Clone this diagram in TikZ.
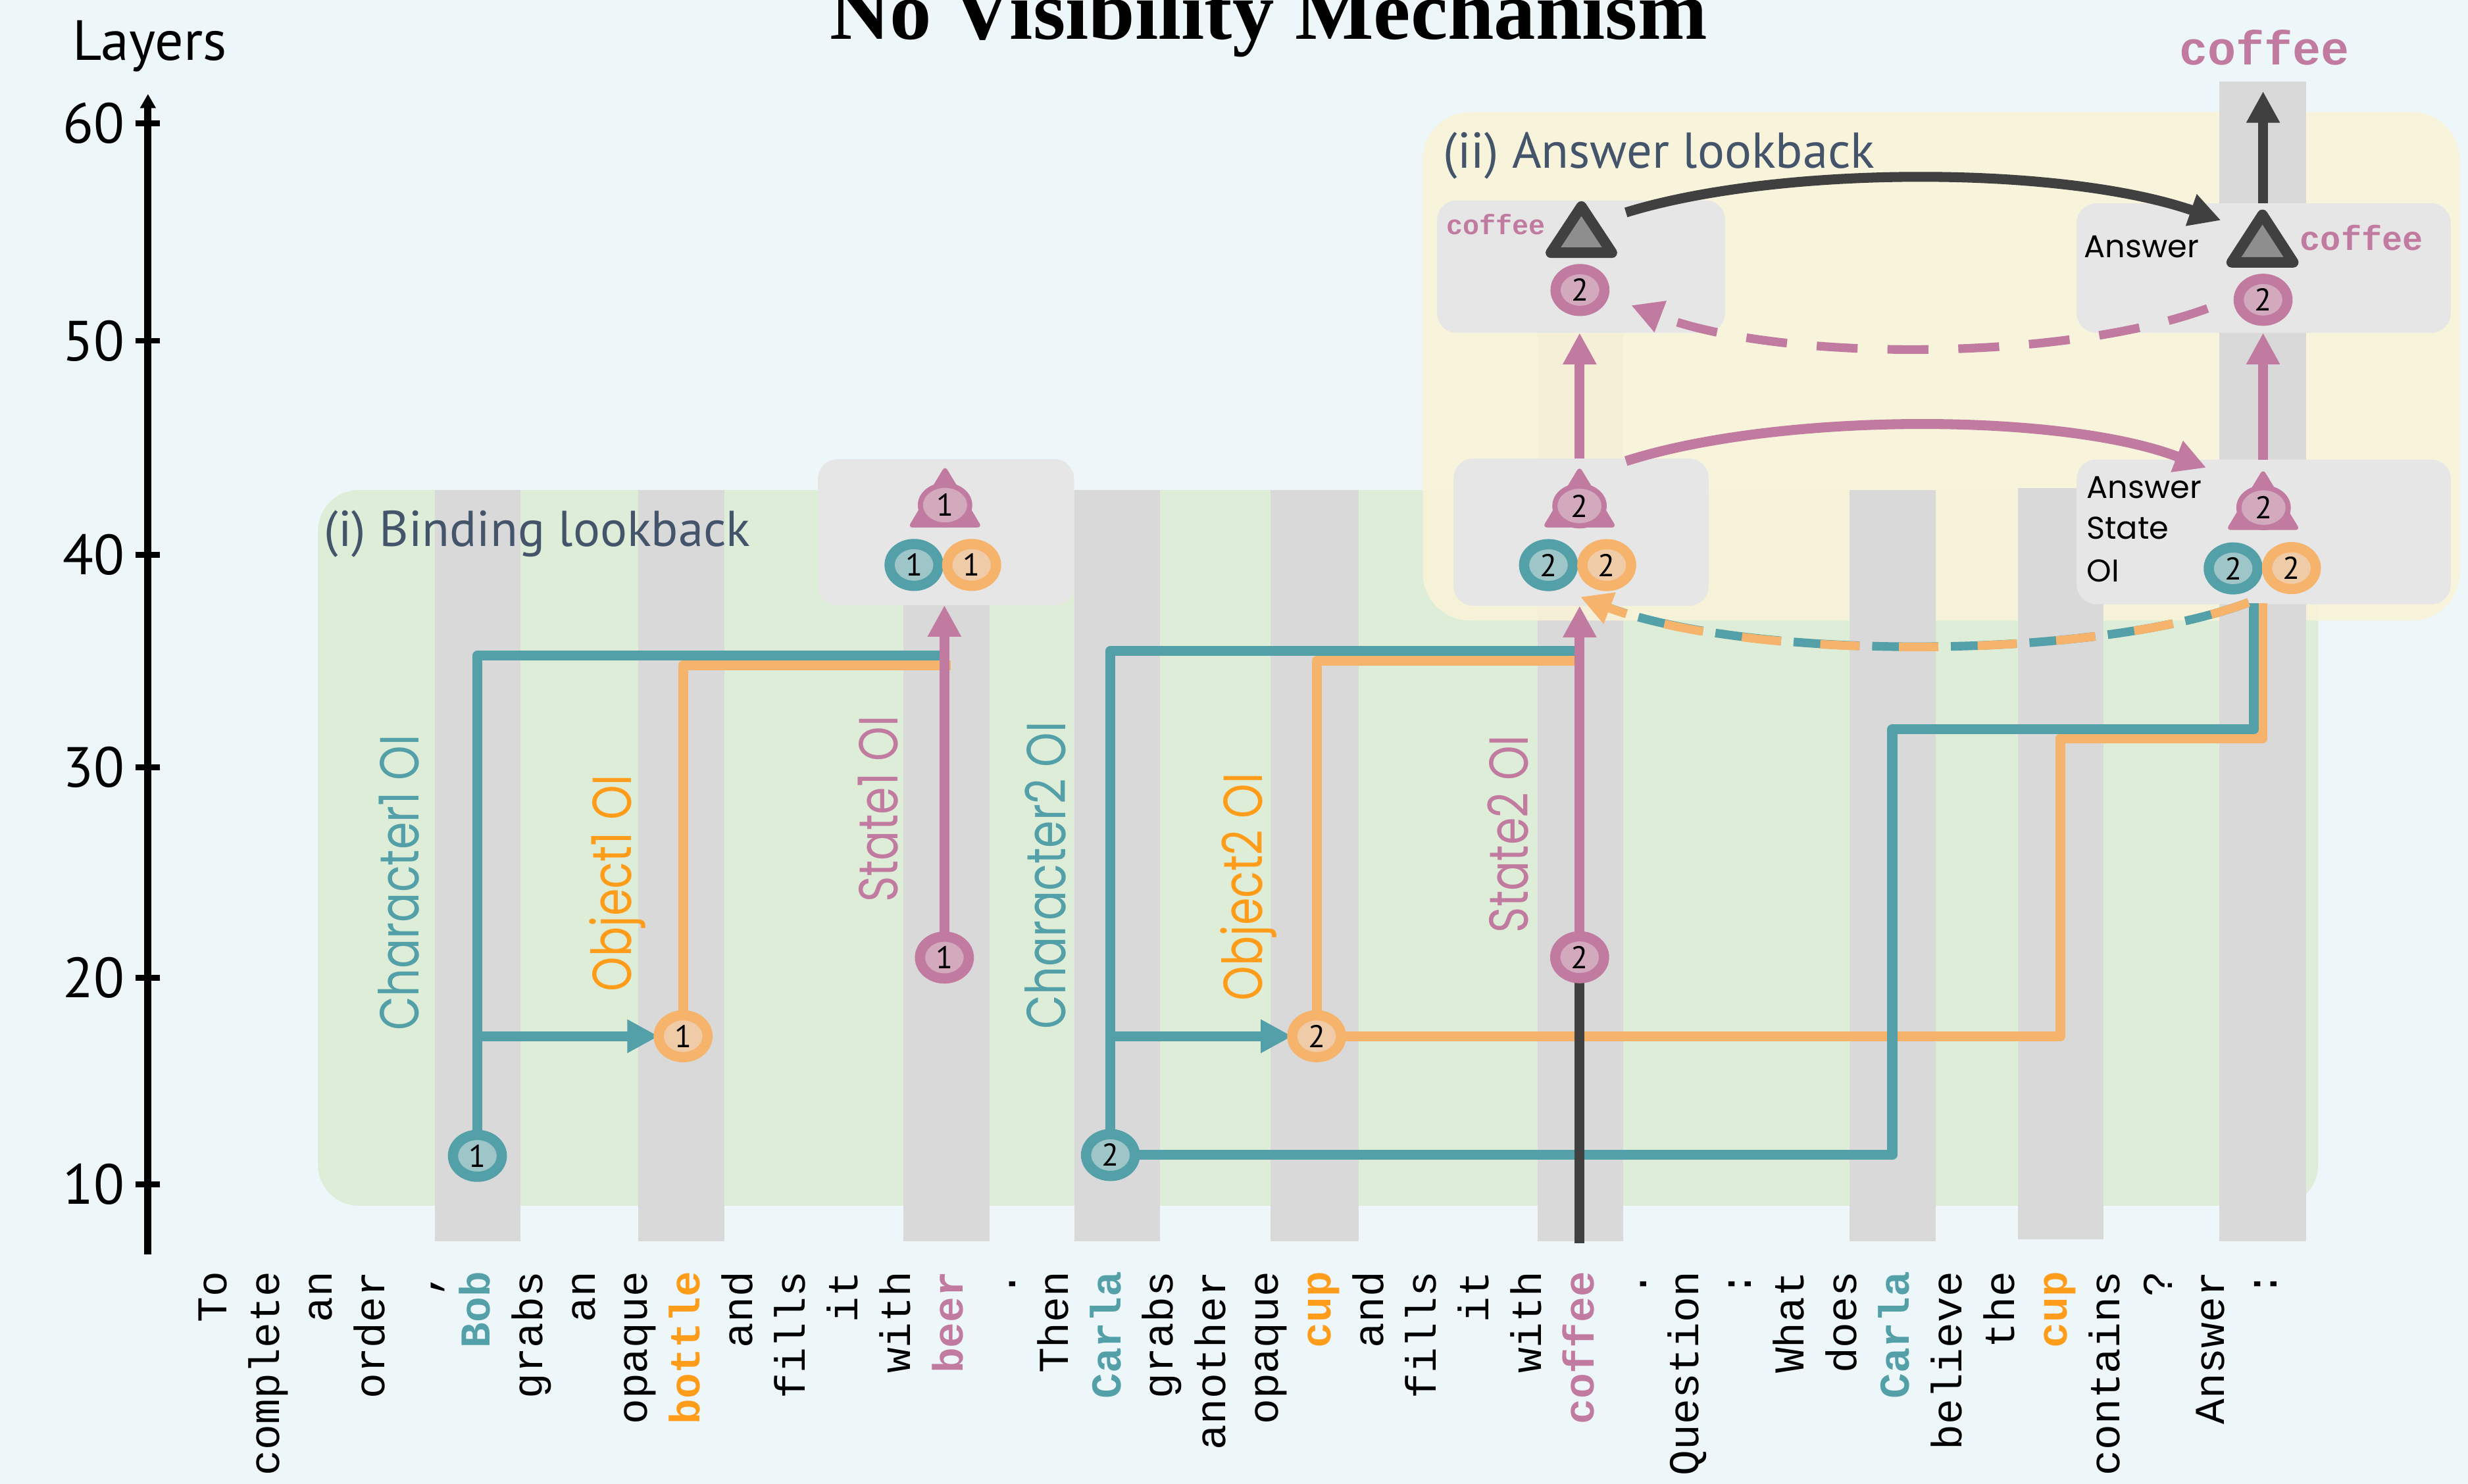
\documentclass[tikz,border=0pt]{standalone}
\usepackage{fontspec}
\usetikzlibrary{arrows.meta,shapes.geometric}
\setmainfont{Liberation Serif}
\newfontfamily\fPT{PT Sans}
\newfontfamily\fGeo[FakeStretch=0.8]{Poppins}
\newfontfamily\fPop{Poppins}
\newfontfamily\fMono{Liberation Mono}
\newcommand\fsz[1]{\fontsize{#1pt}{#1pt}\selectfont}
\definecolor{cBg}{HTML}{EDF6F9}
\definecolor{cGreen}{HTML}{DEEDD8}
\definecolor{cYellow}{HTML}{FBF4D8}
\definecolor{cStrip}{HTML}{D9D9D9}
\definecolor{cBox}{HTML}{E6E6E6}
\definecolor{cTeal}{HTML}{53A0A8}
\definecolor{cTealIn}{HTML}{9EC5C7}
\definecolor{cOrng}{HTML}{F6B36B}
\definecolor{cOrngIn}{HTML}{EFCBA8}
\definecolor{cOtxt}{HTML}{FF9C1A}
\definecolor{cPink}{HTML}{C27BA0}
\definecolor{cPinkIn}{HTML}{D3A9BD}
\definecolor{cDark}{HTML}{404040}
\definecolor{cDarkIn}{HTML}{8E8E8E}
\definecolor{cSlate}{HTML}{44546A}
\pgfdeclarelayer{bg}
\pgfdeclarelayer{lines}
\pgfsetlayers{bg,lines,main}
\newcommand\tokN[3]{\node[tok,#3] (w#1) at ({144.1+33.4*#1},808) {#2};}
\begin{document}
\begin{tikzpicture}[x=1pt,y=-1pt,
  tok/.style={font=\fMono\fsz{27}, inner sep=0pt, outer sep=0pt, rotate=90, anchor=base east},
  btok/.style={font=\fMono\bfseries\fsz{27}},
  olab/.style={font=\fGeo\fsz{35}, inner sep=0pt, outer sep=0pt, rotate=90, anchor=base west},
  plab/.style={font=\fPop\fsz{20}, inner sep=0pt, outer sep=0pt, anchor=base west},
  head/.style={font=\fPT\fsz{32}, text=cSlate, inner sep=0pt, outer sep=0pt, anchor=base west},
  axlab/.style={font=\fPT\fsz{36}, inner sep=0pt, outer sep=0pt, anchor=east},
  circT/.style={ellipse, draw=cTeal, fill=cTealIn, line width=6.5pt, minimum width=31pt, minimum height=26.6pt, inner sep=0pt, outer sep=0pt, font=\fPT\fsz{20}},
  circO/.style={circT, draw=cOrng, fill=cOrngIn},
  circP/.style={circT, draw=cPink, fill=cPinkIn},
  triCirc/.style={ellipse, draw=cPink, fill=cPinkIn, line width=3.3pt, minimum width=31.3pt, minimum height=25.3pt, inner sep=0pt, outer sep=0pt, font=\fPT\fsz{20}},
  nbox/.style={fill=cBox, rounded corners=12.5pt, inner sep=0pt, outer sep=0pt},
  ln/.style={line width=6.3pt, line join=round},
  tealLn/.style={ln, draw=cTeal},
  orngLn/.style={ln, draw=cOrng},
  pinkLn/.style={ln, draw=cPink},
  darkLn/.style={ln, draw=cDark},
  tip/.style={-{Triangle[length=20pt,width=20pt]}},
  monoP/.style={font=\fMono\bfseries, text=cPink, inner sep=0pt, outer sep=0pt}
]
\useasboundingbox (0,0) rectangle (1568,943);

% ---------------- background layer
\begin{pgfonlayer}{bg}
\fill[cBg] (0,0) rectangle (1568,943);
\fill[cGreen, rounded corners=26pt] (202,311.4) rectangle (1472.8,766.2);
\foreach \a/\b in {276.4/330.7, 405.5/460.2, 574.1/628.8, 682.5/737, 807.3/863}
  \fill[cStrip] (\a,311.4) rectangle (\b,789);
\fill[cStrip] (977,212) rectangle (1031.4,789);
\fill[cYellow, fill opacity=0.85, rounded corners=30pt] (904,71.2) rectangle (1562.6,394.3);
\fill[cStrip] (1175,311.4) rectangle (1229.6,789);
\fill[cStrip] (1282,310) rectangle (1336.6,787.5);
\fill[cStrip] (1410,52) rectangle (1465,789);
\node[nbox, minimum width=162.7pt, minimum height=92.8pt] (b1) at (601,338.2) {};
\node[nbox, minimum width=162pt, minimum height=93.6pt] (b2) at (1004.5,338.2) {};
\node[nbox, minimum width=237.7pt, minimum height=92pt] (b3) at (1438.2,338) {};
\node[nbox, minimum width=183pt, minimum height=84.2pt] (b4) at (1004.5,169.4) {};
\node[nbox, minimum width=237.7pt, minimum height=82.3pt] (b5) at (1438.2,170.35) {};
\end{pgfonlayer}

% ---------------- title, axis
\node[font=\bfseries\fsz{53}, anchor=base, inner sep=0pt] (title) at (806,25) {No Visibility Mechanism};
\node[font=\fPT\fsz{36}, anchor=base west, inner sep=0pt] (layers) at (46,38.3) {Layers};
\coordinate (axBot) at (94,797);
\coordinate (axTop) at (94,59.7);
\draw[line width=4.5pt, -{Triangle[length=9pt,width=9.5pt]}] (axBot) -- (axTop);
\foreach \v/\yy in {60/78.4, 50/216.5, 40/352.5, 30/487.5, 20/621.5, 10/752.5}{
  \draw[line width=3.7pt] (86,\yy) -- (101.5,\yy);
  \node[axlab] (ax\v) at (79,\yy) {\v};
}

% ---------------- circles
\node[circT] (t1) at (303.3,734.5) {1};
\node[circO] (o1) at (434,658.5) {1};
\node[circP] (p1) at (600,608.5) {1};
\node[circT] (t2) at (705.5,734) {2};
\node[circO] (o2) at (836.5,658.5) {2};
\node[circP] (p2) at (1003.6,608.3) {2};

% box 1
\fill[cPink, rounded corners=3pt] (600.4,296) -- (623.9,335.2) -- (576.9,335.2) -- cycle;
\node[triCirc] (pt1) at (600.4,321) {1};
\node[circT] (tb1) at (580.7,359) {1};
\node[circO] (ob1) at (617.3,359) {1};
% box 2
\fill[cPink, rounded corners=3pt] (1003.5,296.3) -- (1027,335.2) -- (980,335.2) -- cycle;
\node[triCirc] (pt2) at (1003.5,321.5) {2};
\node[circT] (tb2) at (983.8,359.1) {2};
\node[circO] (ob2) at (1020.8,359.1) {2};
% box 3
\fill[cPink, rounded corners=3pt] (1437.8,298) -- (1461.3,336.8) -- (1414.3,336.8) -- cycle;
\node[triCirc] (pt3) at (1438.1,322.6) {2};
\node[circT] (tb3) at (1418.8,361.2) {2};
\node[circO] (ob3) at (1455.8,361) {2};
\node[plab] (lA3) at (1325.7,316.5) {Answer};
\node[plab] (lS3) at (1325.7,342.6) {State};
\node[plab] (lO3) at (1325.7,369.9) {OI};
% box 4
\filldraw[fill=cDarkIn, draw=cDark, line width=6.7pt, line join=round] (1004.7,131.2) -- (1024.1,160.6) -- (985.3,160.6) -- cycle;
\node[circP] (q1) at (1003.8,184.3) {2};
\node[monoP, font=\fMono\bfseries\fsz{17.5}, anchor=base west] (cof4) at (918.8,149) {coffee};
% box 5
\filldraw[fill=cDarkIn, draw=cDark, line width=6.7pt, line join=round] (1437.4,136.5) -- (1457,166.7) -- (1417.8,166.7) -- cycle;
\node[circP] (q2) at (1437.8,190.5) {2};
\node[monoP, font=\fMono\bfseries\fsz{21.7}, anchor=base west] (cof5) at (1461.3,159) {coffee};
\node[plab] (lA5) at (1324,163.7) {Answer};
% output
\node[monoP, font=\fMono\bfseries\fsz{30}, anchor=base] (out) at (1438.5,41) {coffee};

% headings
\node[head] (h1) at (206,347.2) {(i) Binding lookback};
\node[head] (h2) at (917,106.9) {(ii) Answer lookback};

% rotated labels
\node[olab, text=cTeal] (lc1) at (266.2,655) {Character1 OI};
\node[olab, text=cOtxt] (lo1) at (401,630) {Object1 OI};
\node[olab, text=cPink] (ls1) at (570.5,573.4) {State1 OI};
\node[olab, text=cTeal] (lc2) at (676.9,654) {Character2 OI};
\node[olab, text=cOtxt] (lo2) at (802,636) {Object2 OI};
\node[olab, text=cPink] (ls2) at (971,592.8) {State2 OI};

% tokens
\tokN{0}{To}{}
\tokN{1}{complete}{}
\tokN{2}{an}{}
\tokN{3}{order}{}
\tokN{4}{,}{}
\tokN{5}{Bob}{btok,text=cTeal}
\tokN{6}{grabs}{}
\tokN{7}{an}{}
\tokN{8}{opaque}{}
\tokN{9}{bottle}{btok,text=cOtxt}
\tokN{10}{and}{}
\tokN{11}{fills}{}
\tokN{12}{it}{}
\tokN{13}{with}{}
\tokN{14}{beer}{btok,text=cPink}
\tokN{15}{.}{}
\tokN{16}{Then}{}
\tokN{17}{Carla}{btok,text=cTeal}
\tokN{18}{grabs}{}
\tokN{19}{another}{}
\tokN{20}{opaque}{}
\tokN{21}{cup}{btok,text=cOtxt}
\tokN{22}{and}{}
\tokN{23}{fills}{}
\tokN{24}{it}{}
\tokN{25}{with}{}
\tokN{26}{coffee}{btok,text=cPink}
\tokN{27}{.}{}
\tokN{28}{Question}{}
\tokN{29}{:}{}
\tokN{30}{What}{}
\tokN{31}{does}{}
\tokN{32}{Carla}{btok,text=cTeal}
\tokN{33}{believe}{}
\tokN{34}{the}{}
\tokN{35}{cup}{btok,text=cOtxt}
\tokN{36}{contains}{}
\tokN{37}{?}{}
\tokN{38}{Answer}{}
\tokN{39}{:}{}

% ---------------- connectors
\coordinate (c1t) at (600,416.7);
\coordinate (c1o) at (604,422.7);
\coordinate (c2t) at (1000.4,413.6);
\coordinate (c2o) at (1000.4,419.9);
\coordinate (tk) at (1202.2,463.5);
\coordinate (tEnd) at (1432,383.5);
\coordinate (ok) at (1309,469.4);
\coordinate (oEnd) at (1437.5,383.5);
\coordinate (cBot) at (1003.6,790);
\coordinate (outTip) at (1437.8,58);
\coordinate (dS) at (1033,135);
\coordinate (dE) at (1411,140);
\coordinate (pS) at (1033,293);
\coordinate (pE) at (1401.7,297.2);
\coordinate (qS) at (1402.5,196);
\coordinate (qE) at (1036.3,194);
\coordinate (rS) at (1428.6,382.8);
\coordinate (rE) at (1004,379.3);
\begin{pgfonlayer}{lines}
\draw[orngLn] (o1.north) |- (c1o);
\draw[tealLn] (t1.north) |- (c1t);
\draw[tealLn, tip] (t1 |- o1) -- (o1);
\draw[pinkLn, tip] (p1) -- (p1 |- b1.south);
\draw[orngLn] (o2.north) |- (c2o);
\draw[tealLn] (t2.north) |- (c2t);
\draw[tealLn, tip] (t2 |- o2) -- (o2);
\draw[orngLn] (o2.east) -| (ok) -| (oEnd);
\draw[tealLn] (t2.east) -| (tk) -| (tEnd);
\draw[darkLn] (p2) -- (cBot);
\draw[pinkLn, tip] (p2) -- (p2 |- b2.south);
\draw[pinkLn, tip] (b2.north -| p2) -- (b4.south -| p2);
\draw[pinkLn, tip] (b3.north -| q2) -- (b5.south -| q2);
\draw[darkLn, tip] (b5.north -| q2) -- (outTip);
\draw[darkLn, tip] (dS) .. controls (1130,105) and (1310,105) .. (dE);
\draw[pinkLn, tip] (pS) .. controls (1130,262) and (1310,262) .. (pE);
\draw[pinkLn, line width=5.5pt, dash pattern=on 26pt off 19pt, tip] (qS) .. controls (1310,230) and (1130,230) .. (qE);
\draw[draw=cTeal, line width=5.5pt, dash pattern=on 42pt off 8pt, dash phase=0pt, shorten >=16pt] (rS) .. controls (1330,420) and (1110,420) .. (rE);
\draw[draw=cOrng, line width=5.5pt, dash pattern=on 25pt off 25pt, dash phase=0pt, tip] (rS) .. controls (1330,420) and (1110,420) .. (rE);
\end{pgfonlayer}
\end{tikzpicture}
\end{document}
